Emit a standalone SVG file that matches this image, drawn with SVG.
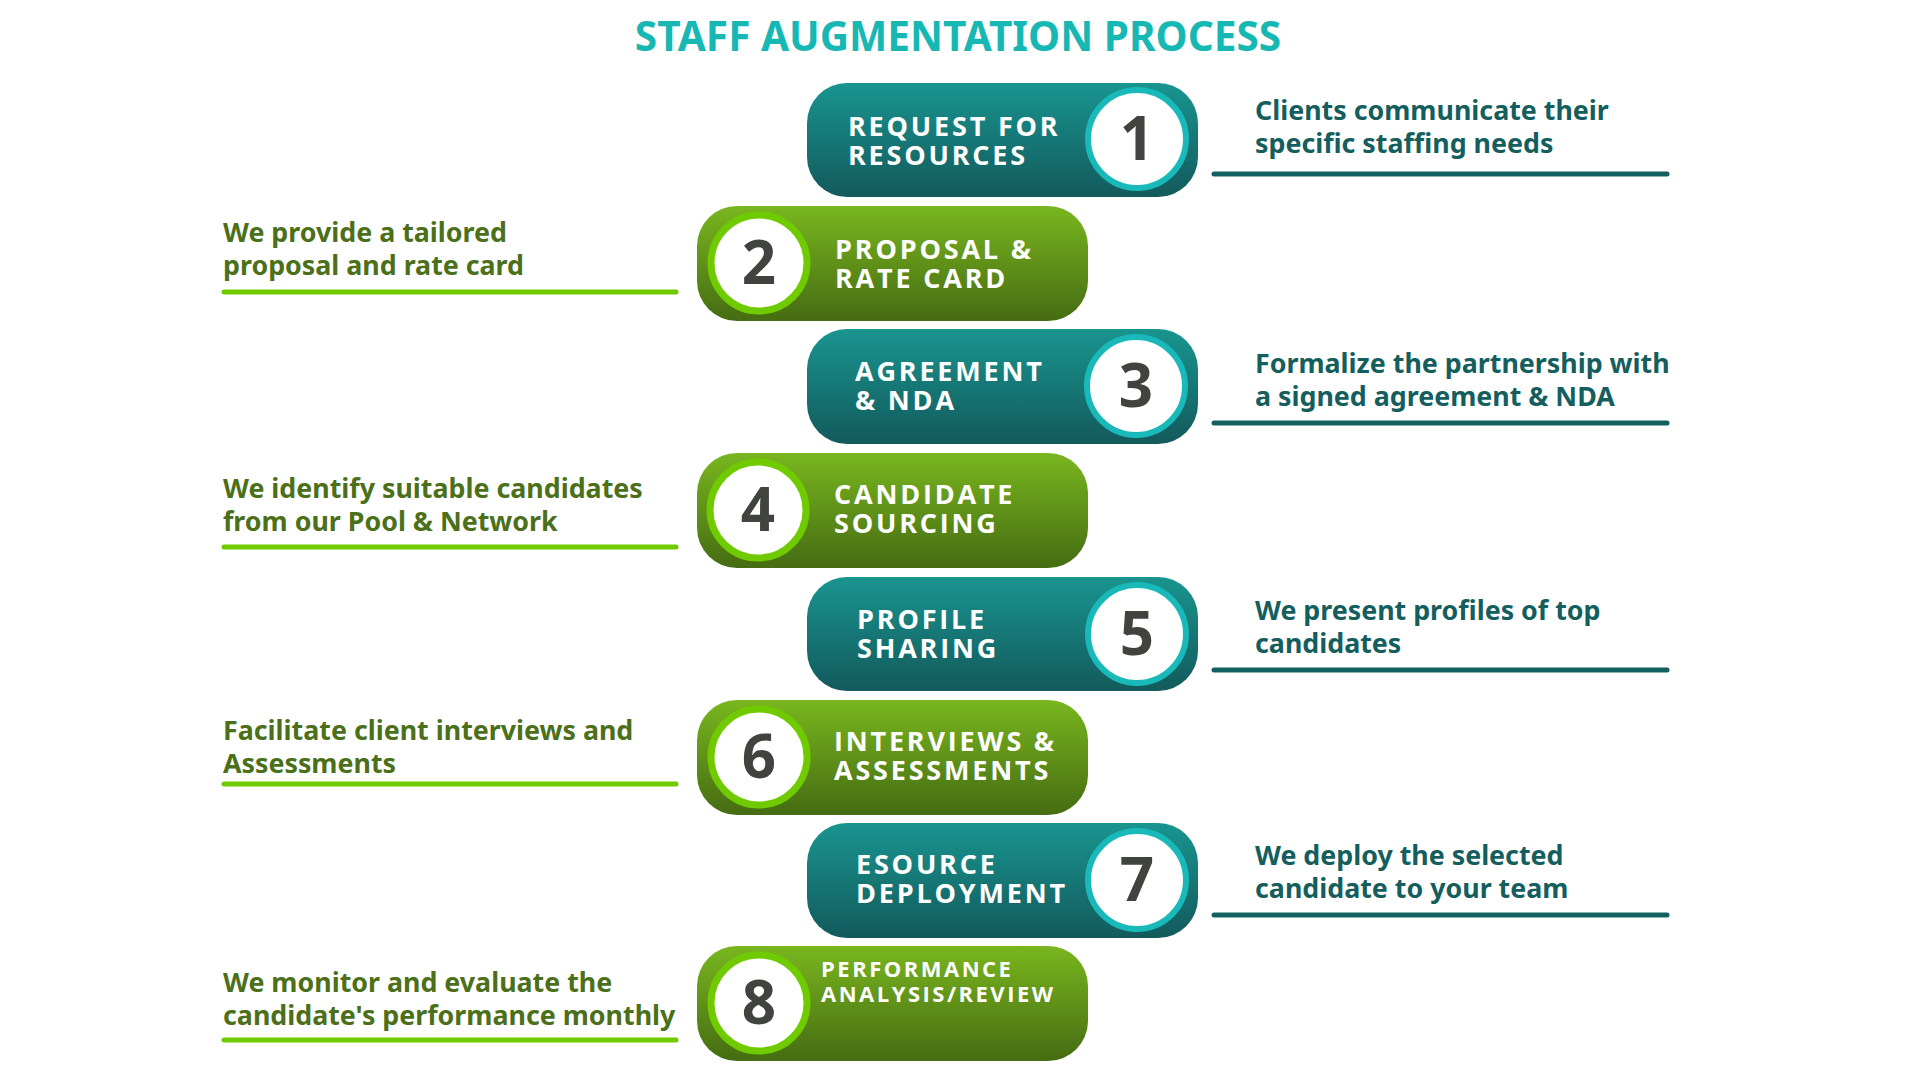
<svg xmlns="http://www.w3.org/2000/svg" width="1920" height="1080" viewBox="0 0 1920 1080">
<defs>
<linearGradient id="gTeal" x1="0" y1="0" x2="0" y2="1">
<stop offset="0" stop-color="#19948f"/>
<stop offset="1" stop-color="#135a5c"/>
</linearGradient>
<linearGradient id="gGreen" x1="0" y1="0" x2="0" y2="1">
<stop offset="0" stop-color="#79b61f"/>
<stop offset="1" stop-color="#456c12"/>
</linearGradient>
<style>
.title{font-family:"Noto Sans","Open Sans",sans-serif;font-weight:700;font-size:40.6px;fill:#17b8b4;text-anchor:middle}
.pt{font-family:"Open Sans","Noto Sans",sans-serif;font-weight:700;font-size:27px;fill:#ffffff;letter-spacing:2.8px}
.pts{font-family:"Open Sans","Noto Sans",sans-serif;font-weight:700;font-size:22px;fill:#ffffff;letter-spacing:2.5px}
.num{font-family:"Open Sans","Noto Sans",sans-serif;font-weight:700;font-size:60px;fill:#41433f;text-anchor:middle}
.dt{font-family:"Noto Sans","Open Sans",sans-serif;font-weight:700;font-size:26.8px;fill:#145e5e}
.dg{font-family:"Noto Sans","Open Sans",sans-serif;font-weight:700;font-size:26.8px;fill:#4b7019}
.lt{stroke:#146060;stroke-width:5;stroke-linecap:round;fill:none}
.lg{stroke:#6fcb00;stroke-width:5;stroke-linecap:round;fill:none}
.pT{fill:url(#gTeal)}
.pG{fill:url(#gGreen)}
.cT{fill:#ffffff;stroke:#19b9b9;stroke-width:6}
.cG{fill:#ffffff;stroke:#6fcb00;stroke-width:7}
</style>
</defs>
<rect width="1920" height="1080" fill="#ffffff"/>
<text class="title" x="958" y="51">STAFF AUGMENTATION PROCESS</text>

<g id="step1">
<rect class="pT" x="807" y="83" width="391" height="114" rx="40"/>
<circle class="cT" cx="1137" cy="139" r="49"/>
<text class="num" x="1137" y="160">1</text>
<text class="pt" x="848" y="136">REQUEST FOR</text>
<text class="pt" x="848" y="165">RESOURCES</text>
</g>
<g id="step2">
<rect class="pG" x="697" y="206" width="391" height="115" rx="40"/>
<circle class="cG" cx="759" cy="263" r="48"/>
<text class="num" x="759" y="284">2</text>
<text class="pt" x="835" y="259">PROPOSAL &amp;</text>
<text class="pt" x="835" y="288">RATE CARD</text>
</g>
<g id="step3">
<rect class="pT" x="807" y="329" width="391" height="115" rx="40"/>
<circle class="cT" cx="1136" cy="386" r="49"/>
<text class="num" x="1136" y="407">3</text>
<text class="pt" x="855" y="381">AGREEMENT</text>
<text class="pt" x="855" y="410">&amp; NDA</text>
</g>
<g id="step4">
<rect class="pG" x="697" y="453" width="391" height="115" rx="40"/>
<circle class="cG" cx="758" cy="510" r="48"/>
<text class="num" x="758" y="531">4</text>
<text class="pt" x="834" y="504">CANDIDATE</text>
<text class="pt" x="834" y="533">SOURCING</text>
</g>
<g id="step5">
<rect class="pT" x="807" y="577" width="391" height="114" rx="40"/>
<circle class="cT" cx="1137" cy="634" r="49"/>
<text class="num" x="1137" y="655">5</text>
<text class="pt" x="857" y="629">PROFILE</text>
<text class="pt" x="857" y="658">SHARING</text>
</g>
<g id="step6">
<rect class="pG" x="697" y="700" width="391" height="115" rx="40"/>
<circle class="cG" cx="759" cy="757" r="48"/>
<text class="num" x="759" y="778">6</text>
<text class="pt" x="834" y="751">INTERVIEWS &amp;</text>
<text class="pt" x="834" y="780">ASSESSMENTS</text>
</g>
<g id="step7">
<rect class="pT" x="807" y="823" width="391" height="115" rx="40"/>
<circle class="cT" cx="1137" cy="880" r="49"/>
<text class="num" x="1137" y="901">7</text>
<text class="pt" x="856" y="874">ESOURCE</text>
<text class="pt" x="856" y="903">DEPLOYMENT</text>
</g>
<g id="step8">
<rect class="pG" x="697" y="946" width="391" height="115" rx="40"/>
<circle class="cG" cx="759" cy="1003" r="48"/>
<text class="num" x="759" y="1024">8</text>
<text class="pts" x="821" y="977">PERFORMANCE</text>
<text class="pts" x="821" y="1002">ANALYSIS/REVIEW</text>
</g>

<g id="desc1">
<text class="dt" x="1255" y="120">Clients communicate their</text>
<text class="dt" x="1255" y="153">specific staffing needs</text>
</g>
<g id="desc2">
<text class="dg" x="223" y="242">We provide a tailored</text>
<text class="dg" x="223" y="275">proposal and rate card</text>
</g>
<g id="desc3">
<text class="dt" x="1255" y="373">Formalize the partnership with</text>
<text class="dt" x="1255" y="406">a signed agreement &amp; NDA</text>
</g>
<g id="desc4">
<text class="dg" x="223" y="498">We identify suitable candidates</text>
<text class="dg" x="223" y="531">from our Pool &amp; Network</text>
</g>
<g id="desc5">
<text class="dt" x="1255" y="620">We present profiles of top</text>
<text class="dt" x="1255" y="653">candidates</text>
</g>
<g id="desc6">
<text class="dg" x="223" y="740">Facilitate client interviews and</text>
<text class="dg" x="223" y="773">Assessments</text>
</g>
<g id="desc7">
<text class="dt" x="1255" y="865">We deploy the selected</text>
<text class="dt" x="1255" y="898">candidate to your team</text>
</g>
<g id="desc8">
<text class="dg" x="223" y="992">We monitor and evaluate the</text>
<text class="dg" x="223" y="1025">candidate's performance monthly</text>
</g>

<g id="connectors">
<line class="lt" x1="1214" y1="174" x2="1667" y2="174"/>
<line class="lg" x1="224" y1="292" x2="676" y2="292"/>
<line class="lt" x1="1214" y1="423" x2="1667" y2="423"/>
<line class="lg" x1="224" y1="547" x2="676" y2="547"/>
<line class="lt" x1="1214" y1="670" x2="1667" y2="670"/>
<line class="lg" x1="224" y1="784" x2="676" y2="784"/>
<line class="lt" x1="1214" y1="915" x2="1667" y2="915"/>
<line class="lg" x1="224" y1="1040" x2="676" y2="1040"/>
</g>
</svg>
